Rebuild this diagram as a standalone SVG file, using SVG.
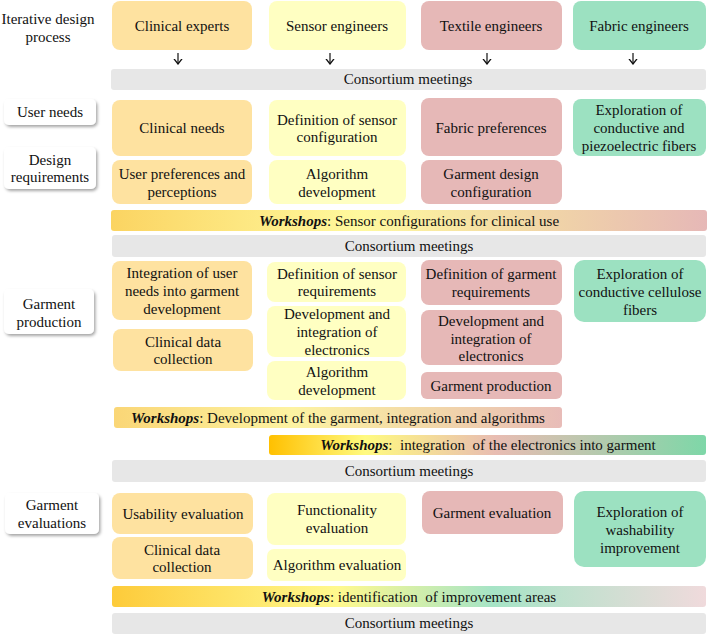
<svg xmlns="http://www.w3.org/2000/svg" width="709" height="635" viewBox="0 0 709 635" font-family="'Liberation Serif','Times New Roman',serif">
<defs>
<style>
text{font-family:"Liberation Serif","Times New Roman",serif;font-size:15px;fill:#111;text-anchor:middle}
.o{fill:#FEE2A0}.y{fill:#FFFFC2}.p{fill:#E6B8B7}.g{fill:#9CE1C1}
.c{fill:#E7E7E7}
.lab{fill:#fff;filter:url(#sh)}
.b{font-weight:bold;font-style:italic}
.arr{stroke:#111;stroke-width:1.2;fill:none}
.pre{white-space:pre}
</style>
<filter id="sh" x="-20%" y="-20%" width="140%" height="150%">
<feDropShadow dx="1.5" dy="2" stdDeviation="1.5" flood-color="#000" flood-opacity="0.35"/>
</filter>
<linearGradient id="w1" x1="0" y1="0" x2="1" y2="0">
<stop offset="0" stop-color="#FBD462"/>
<stop offset="0.42" stop-color="#FFF99E"/>
<stop offset="0.72" stop-color="#F1D6A6"/>
<stop offset="1" stop-color="#E6B8B7"/>
</linearGradient>
<linearGradient id="w2" x1="0" y1="0" x2="1" y2="0">
<stop offset="0" stop-color="#FAD676"/>
<stop offset="0.4" stop-color="#FDF3A2"/>
<stop offset="0.7" stop-color="#F2D8A8"/>
<stop offset="1" stop-color="#E8BCB8"/>
</linearGradient>
<linearGradient id="w3" x1="0" y1="0" x2="1" y2="0">
<stop offset="0" stop-color="#FFC000"/>
<stop offset="0.22" stop-color="#FFFA80"/>
<stop offset="0.52" stop-color="#E8BCB2"/>
<stop offset="1" stop-color="#7ED7A8"/>
</linearGradient>
<linearGradient id="w4" x1="0" y1="0" x2="1" y2="0">
<stop offset="0" stop-color="#FDCB3A"/>
<stop offset="0.38" stop-color="#FFF98E"/>
<stop offset="0.64" stop-color="#A6E4C6"/>
<stop offset="1" stop-color="#F0DADC"/>
</linearGradient>
<marker id="ah" viewBox="0 0 6 10" refX="5.5" refY="5" markerWidth="6" markerHeight="10" orient="auto" markerUnits="userSpaceOnUse">
<path d="M0.3,1 L5.5,5 L0.3,9" fill="none" stroke="#111" stroke-width="1.3"/>
</marker>
</defs>

<!-- Header -->
<g id="iterative">
<text x="48" y="24">Iterative design</text>
<text x="48" y="42">process</text>
</g>
<g id="clinical-experts"><rect class="o" x="112" y="1" width="140" height="49" rx="8"/><text x="182" y="31">Clinical experts</text></g>
<g id="sensor-engineers"><rect class="y" x="269" y="1" width="137" height="49" rx="8"/><text x="337" y="31">Sensor engineers</text></g>
<g id="textile-engineers"><rect class="p" x="421" y="1" width="141" height="49" rx="8"/><text x="491" y="31">Textile engineers</text></g>
<g id="fabric-engineers"><rect class="g" x="573" y="1" width="133" height="49" rx="8"/><text x="639" y="31">Fabric engineers</text></g>

<g id="connectors">
<line class="arr" x1="178" y1="53" x2="178" y2="64" marker-end="url(#ah)"/>
<line class="arr" x1="330" y1="53" x2="330" y2="64" marker-end="url(#ah)"/>
<line class="arr" x1="487" y1="53" x2="487" y2="64" marker-end="url(#ah)"/>
<line class="arr" x1="633" y1="53" x2="633" y2="64" marker-end="url(#ah)"/>
</g>

<g id="consortium1"><rect class="c" x="111" y="69" width="595" height="21" rx="3"/><text x="408" y="84">Consortium meetings</text></g>

<!-- Section: user needs / design requirements -->
<g id="user-needs"><rect class="lab" x="4" y="99" width="92" height="26" rx="5"/><text x="50" y="117">User needs</text></g>
<g id="design-requirements"><rect class="lab" x="4" y="147" width="92" height="42" rx="5"/><text x="50" y="165">Design</text><text x="50" y="182">requirements</text></g>

<g id="clinical-needs"><rect class="o" x="112" y="100" width="140" height="56" rx="8"/><text x="182" y="133">Clinical needs</text></g>
<g id="user-preferences"><rect class="o" x="112" y="160" width="140" height="44" rx="8"/><text x="182" y="179">User preferences and</text><text x="182" y="197">perceptions</text></g>
<g id="def-sensor-config"><rect class="y" x="269" y="100" width="137" height="56" rx="8"/><text x="337" y="125">Definition of sensor</text><text x="337" y="142">configuration</text></g>
<g id="algorithm-dev1"><rect class="y" x="269" y="160" width="137" height="44" rx="8"/><text x="337" y="179">Algorithm</text><text x="337" y="197">development</text></g>
<g id="fabric-preferences"><rect class="p" x="421" y="98" width="141" height="58" rx="8"/><text x="491" y="133">Fabric preferences</text></g>
<g id="garment-design-config"><rect class="p" x="421" y="160" width="141" height="44" rx="8"/><text x="491" y="179">Garment design</text><text x="491" y="197">configuration</text></g>
<g id="exploration-piezo"><rect class="g" x="573" y="99" width="133" height="57" rx="8"/><text x="639" y="115">Exploration of</text><text x="639" y="133">conductive and</text><text x="639" y="151">piezoelectric fibers</text></g>

<g id="workshop1"><rect fill="url(#w1)" x="111" y="210" width="596" height="21" rx="3"/><text x="409" y="226"><tspan class="b">Workshops</tspan>: Sensor configurations for clinical use</text></g>
<g id="consortium2"><rect class="c" x="112" y="235" width="594" height="22" rx="3"/><text x="409" y="251">Consortium meetings</text></g>

<!-- Section: garment production -->
<g id="garment-production-label"><rect class="lab" x="4" y="289" width="90" height="45" rx="5"/><text x="49" y="309">Garment</text><text x="49" y="327">production</text></g>

<g id="integration-user-needs"><rect class="o" x="112" y="261" width="140" height="59" rx="8"/><text x="182" y="278">Integration of user</text><text x="182" y="296">needs into garment</text><text x="182" y="314">development</text></g>
<g id="clinical-data1"><rect class="o" x="113" y="329" width="140" height="42" rx="8"/><text x="183" y="347">Clinical data</text><text x="183" y="364">collection</text></g>
<g id="def-sensor-req"><rect class="y" x="267" y="262" width="139" height="40" rx="8"/><text x="337" y="279">Definition of sensor</text><text x="337" y="296">requirements</text></g>
<g id="dev-electronics1"><rect class="y" x="267" y="306" width="139" height="51" rx="8"/><text x="337" y="319">Development and</text><text x="337" y="337">integration of</text><text x="337" y="355">electronics</text></g>
<g id="algorithm-dev2"><rect class="y" x="267" y="361" width="139" height="39" rx="8"/><text x="337" y="377">Algorithm</text><text x="337" y="395">development</text></g>
<g id="def-garment-req"><rect class="p" x="421" y="260" width="141" height="45" rx="8"/><text x="491" y="279">Definition of garment</text><text x="491" y="297">requirements</text></g>
<g id="dev-electronics2"><rect class="p" x="421" y="310" width="141" height="55" rx="8"/><text x="491" y="326">Development and</text><text x="491" y="344">integration of</text><text x="491" y="361">electronics</text></g>
<g id="garment-production"><rect class="p" x="421" y="372" width="141" height="27" rx="6"/><text x="491" y="391">Garment production</text></g>
<g id="exploration-cellulose"><rect class="g" x="574" y="260" width="132" height="62" rx="10"/><text x="640" y="279">Exploration of</text><text x="640" y="297">conductive cellulose</text><text x="640" y="315">fibers</text></g>

<g id="workshop2"><rect fill="url(#w2)" x="114" y="407" width="448" height="21" rx="3"/><text x="338" y="423"><tspan class="b">Workshops</tspan>: Development of the garment, integration and algorithms</text></g>
<g id="workshop3"><rect fill="url(#w3)" x="269" y="435" width="437" height="20" rx="3"/><text class="pre" x="488" y="450"><tspan class="b">Workshops</tspan>:  integration  of the electronics into garment</text></g>
<g id="consortium3"><rect class="c" x="112" y="460" width="594" height="22" rx="3"/><text x="409" y="476">Consortium meetings</text></g>

<!-- Section: garment evaluations -->
<g id="garment-evaluations-label"><rect class="lab" x="5" y="493" width="94" height="41" rx="5"/><text x="52" y="510">Garment</text><text x="52" y="528">evaluations</text></g>

<g id="usability-eval"><rect class="o" x="112" y="493" width="141" height="41" rx="8"/><text x="183" y="519">Usability evaluation</text></g>
<g id="clinical-data2"><rect class="o" x="112" y="537" width="141" height="42" rx="8"/><text x="182" y="555">Clinical data</text><text x="182" y="572">collection</text></g>
<g id="functionality-eval"><rect class="y" x="267" y="493" width="139" height="52" rx="8"/><text x="337" y="515">Functionality</text><text x="337" y="533">evaluation</text></g>
<g id="algorithm-eval"><rect class="y" x="267" y="549" width="139" height="32" rx="7"/><text x="337" y="570">Algorithm evaluation</text></g>
<g id="garment-eval"><rect class="p" x="422" y="491" width="141" height="43" rx="8"/><text x="492" y="518">Garment evaluation</text></g>
<g id="exploration-washability"><rect class="g" x="574" y="491" width="132" height="76" rx="10"/><text x="640" y="517">Exploration of</text><text x="640" y="535">washability</text><text x="640" y="553">improvement</text></g>

<g id="workshop4"><rect fill="url(#w4)" x="112" y="586" width="594" height="21" rx="3"/><text class="pre" x="409" y="602"><tspan class="b">Workshops</tspan>: identification  of improvement areas</text></g>
<g id="consortium4"><rect class="c" x="112" y="613" width="594" height="21" rx="3"/><text x="409" y="628">Consortium meetings</text></g>
</svg>
